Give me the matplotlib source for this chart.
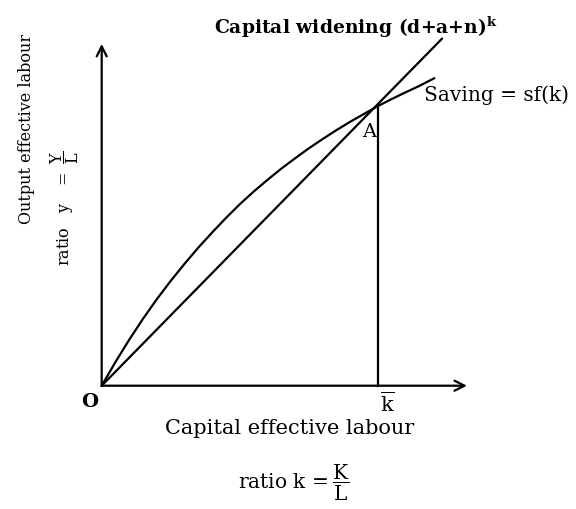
import matplotlib.pyplot as plt

# Values (k in units of k-bar)
k_saving = [0, 0.05, 0.1, 0.15, 0.2, 0.25, 0.3, 0.35, 0.4, 0.45, 0.5, 0.55, 0.6, 0.65, 0.7,
            0.75, 0.8, 0.85, 0.9, 0.95, 1.0, 1.05, 1.1, 1.15, 1.203]
y_saving = [0, 0.085, 0.165, 0.24, 0.31, 0.375, 0.436, 0.494, 0.548, 0.6, 0.649, 0.694,
            0.736, 0.776, 0.813, 0.849, 0.882, 0.914, 0.944, 0.972, 1.0, 1.025, 1.049,
            1.072, 1.099]
k_widening = [0, 1.232]
y_widening = [0, 1.241]
k_bar = 1.0
y_A = 1.0
x_axis_end = 1.322
y_axis_end = 1.222

W, H = 576, 510
plt.rcParams['font.family'] = 'DejaVu Serif'
plt.rcParams['mathtext.fontset'] = 'dejavuserif'

fig = plt.figure(figsize=(W / 100, H / 100), dpi=100)
ax = fig.add_axes([0, 0, 1, 1])
# origin of diagram at pixel (101.7, 386.7); 1 unit = 276.3 px in x, 279.7 px in y
x0, y0, sx, sy = 101.7, 386.7, 276.3, 279.7
ax.set_xlim(-x0 / sx, (W - x0) / sx)
ax.set_ylim((y0 - H) / sy, y0 / sy)
ax.axis('off')


def px(x, y):
    return x / W, 1 - y / H


lw = 1.6
# axes with arrows
ax.annotate('', xy=(x_axis_end, 0), xytext=(0, 0),
            arrowprops=dict(arrowstyle='->', lw=lw, color='black', shrinkA=0, shrinkB=0,
                            mutation_scale=18))
ax.annotate('', xy=(0, y_axis_end), xytext=(0, 0),
            arrowprops=dict(arrowstyle='->', lw=lw, color='black', shrinkA=0, shrinkB=0,
                            mutation_scale=18))

# curves
ax.plot(k_widening, y_widening, color='black', lw=lw, solid_capstyle='round')
ax.plot(k_saving, y_saving, color='black', lw=lw, solid_joinstyle='round')
ax.plot([k_bar, k_bar], [0, y_A], color='black', lw=lw)

# labels
fig.text(*px(356, 27), r'Capital widening (d+a+n)$^{\mathbf{k}}$', ha='center', va='center',
         fontsize=13.5, fontweight='bold')
fig.text(*px(424, 95), 'Saving = sf(k)', ha='left', va='center', fontsize=14.5)
fig.text(*px(369, 132), 'A', ha='center', va='center', fontsize=14)
fig.text(*px(90, 402), 'O', ha='center', va='center', fontsize=14, fontweight='bold')
fig.text(*px(387, 404), r'$\overline{\mathrm{k}}$', ha='center', va='center', fontsize=15)
fig.text(*px(290, 429), 'Capital effective labour', ha='center', va='center', fontsize=15)
fig.text(*px(294, 483), r'ratio k$\,=\dfrac{\mathrm{K}}{\mathrm{L}}$', ha='center', va='center',
         fontsize=14.5)
fig.text(*px(27, 129), 'Output effective labour', ha='center', va='center', rotation=90,
         fontsize=11.5)
fig.text(*px(65, 208), r'ratio   y   $=\ \dfrac{\mathrm{Y}}{\mathrm{L}}$', ha='center',
         va='center', rotation=90, fontsize=11.5)

fig.savefig('out.png', dpi=100, facecolor='white')
